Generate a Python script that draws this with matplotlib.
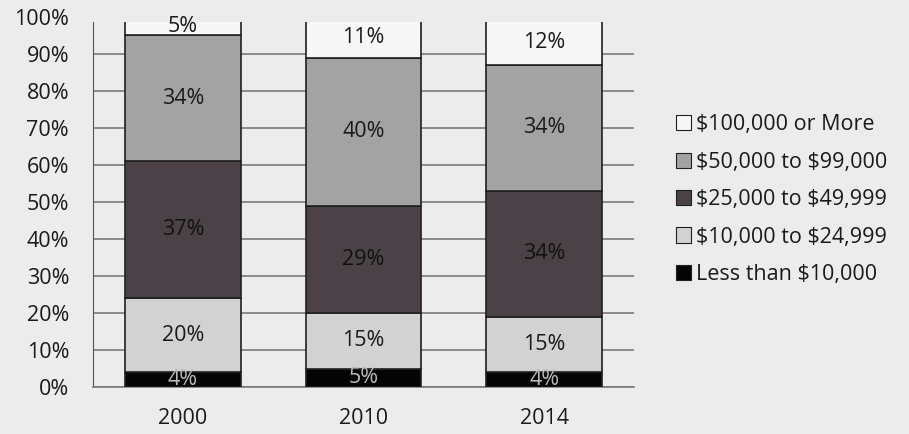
import matplotlib.pyplot as plt
from matplotlib.patches import Rectangle
import numpy as np

years = ['2000', '2010', '2014']
# income brackets, bottom of the stack first
brackets = ['Less than \\$10,000', '\\$10,000 to \\$24,999', '\\$25,000 to \\$49,999',
            '\\$50,000 to \\$99,000', '\\$100,000 or More']
under_10k = [4, 5, 4]
from_10k = [20, 15, 15]
from_25k = [37, 29, 34]
from_50k = [34, 40, 34]
over_100k = [5, 11, 12]

colors = ['#050505', '#d2d2d2', '#4a4246', '#a3a3a3', '#f7f7f7']
text_colors = ['#bbbbbb', '#1a1a1a', '#111111', '#1a1a1a', '#1a1a1a']

plt.rcParams['font.family'] = ['Open Sans', 'DejaVu Sans']
bg = '#ececec'
fs = 15.5

fig = plt.figure(figsize=(9.09, 4.34), dpi=100, facecolor=bg)
ax = fig.add_axes([0.102, 0.108, 0.596, 0.853])
ax.set_facecolor(bg)

# bars stop a little short of the top of the axis
clip = Rectangle((-0.5, 0), 3, 98.5, transform=ax.transData, visible=False)
ax.add_patch(clip)

x = np.arange(len(years))
series = [under_10k, from_10k, from_25k, from_50k, over_100k]
bottom = np.zeros(len(years))
for vals, col, tcol, name in zip(series, colors, text_colors, brackets):
    vals = np.array(vals, dtype=float)
    bars = ax.bar(x, vals, 0.64, bottom=bottom, color=col, edgecolor='#202020',
                  linewidth=1.2, label=name, zorder=3)
    for b in bars:
        b.set_clip_path(clip)
    for xi, b, v in zip(x, bottom, vals):
        t = ax.text(xi, b + v / 2, f'{int(v)}%', ha='center', va='center',
                    fontsize=fs, color=tcol, zorder=4)
        t.set_clip_path(clip)
    bottom += vals

ax.set_xlim(-0.5, 2.5)
ax.set_ylim(0, 100)
ax.set_yticks(range(0, 101, 10))
ax.set_yticklabels([f'{t}%' for t in range(0, 101, 10)])
ax.yaxis.grid(True, color='#7a7a7a', linewidth=1.2, zorder=0)
ax.get_ygridlines()[-1].set_visible(False)
ax.set_xticks(x)
ax.set_xticklabels(years)
ax.tick_params(axis='both', length=0, labelsize=fs, colors='#1a1a1a')
ax.tick_params(axis='x', pad=15)
ax.tick_params(axis='y', pad=17)
for s in ['top', 'right']:
    ax.spines[s].set_visible(False)
ax.spines['left'].set_color('#555555')
ax.spines['left'].set_bounds(0, 98.5)
ax.spines['bottom'].set_color('#7a7a7a')
ax.spines['bottom'].set_linewidth(1.2)

handles, labels = ax.get_legend_handles_labels()
leg = fig.legend(handles[::-1], labels[::-1], loc='center left',
                 bbox_to_anchor=(0.722, 0.54), frameon=False, fontsize=fs,
                 handlelength=0.7, handleheight=0.7, handletextpad=0.25,
                 labelspacing=0.76, labelcolor='#1a1a1a')
for h in leg.legend_handles:
    h.set_linewidth(0.8)

fig.savefig('out.png', dpi=100, facecolor=bg)
